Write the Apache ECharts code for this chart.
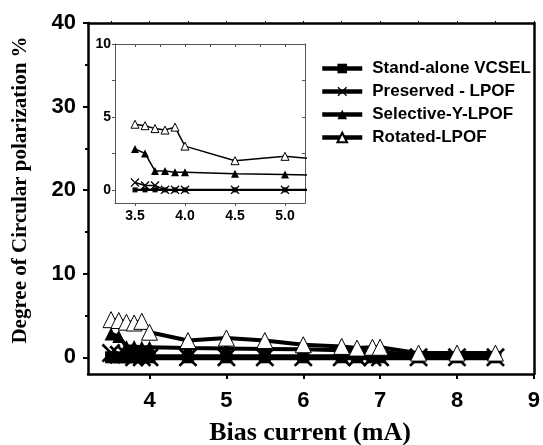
<!DOCTYPE html>
<html>
<head>
<meta charset="utf-8">
<script src="https://cdn.jsdelivr.net/npm/echarts@6/dist/echarts.min.js"></script>
<style>html,body{margin:0;padding:0;background:#fff}#c{width:543px;height:445px}</style>
</head>
<body>
<div id="c"></div>
<script>
const biasCurrent = [3.5,3.6,3.7,3.8,3.9,4.0,4.5,5.0,5.5,6.0,6.5,6.7,6.9,7.0,7.5,8.0,8.5];
const standAlone  = [0,0,0,0,0,0,0,0,0,0,0,0,0,0,0,0,0];
const preserved   = [0.5,0.3,0.3,0,0,0,0,0,0,0,0,0,0,0,0,0,0];
const selectiveY  = [2.8,2.5,1.3,1.3,1.2,1.2,1.1,1.05,1.0,0.95,0.85,0.7,0.6,0.6,0.3,0.3,0.3];
const rotated     = [4.5,4.4,4.2,4.1,4.3,3.0,2.0,2.3,2.0,1.5,1.3,1.1,1.2,1.2,0.5,0.5,0.5];
const seriesNames = ['Stand-alone VCSEL','Preserved - LPOF','Selective-Y-LPOF','Rotated-LPOF'];
const mainXTicks = [4,5,6,7,8,9];
const mainXMinor = [3.5,4.5,5.5,6.5,7.5,8.5];
const mainYTicks = [0,10,20,30,40];
const mainYMinor = [5,15,25,35];
const insetXTicks = [3.5,4.0,4.5,5.0];
const insetXTop = [3.5,3.75,4.0,4.25,4.5,4.75,5.0];
const insetYTicks = [0,5,10];
const insetYAll = [0,2.5,5,7.5,10];

const XMARK = 'path://M0,1L1,0L5,4L9,0L10,1L6,5L10,9L9,10L5,6L1,10L0,9L4,5Z';
const pairs = arr => biasCurrent.map((x,i)=>[x,arr[i]]);
const values = [standAlone, preserved, selectiveY, rotated];
const BF = '"Liberation Sans", Arial, sans-serif';
const mainZ = [3, 2, 4, 5];
const mainW = [6, 4, 4, 4];

function styleFor(k, inset){
  const s = {};
  if(k===0){ s.symbol='rect'; s.symbolSize= inset?5:12; s.itemStyle={color:'#000'}; }
  if(k===1){ s.symbol=XMARK; s.symbolSize= inset?9:19; s.itemStyle={color:'#000'}; }
  if(k===2){ s.symbol='triangle'; s.symbolSize= inset?8:13; s.itemStyle={color:'#000'}; }
  if(k===3){ s.symbol='triangle'; s.symbolSize= inset?8:16; s.itemStyle={color:'#fff',borderColor:'#000',borderWidth:1}; }
  return s;
}

const series = [];
values.forEach((v,k)=>{
  series.push(Object.assign({
    name: seriesNames[k], type:'line', xAxisIndex:0, yAxisIndex:0,
    data: pairs(v), lineStyle:{color:'#000', width:mainW[k]}, color:'#000', z: mainZ[k]
  }, styleFor(k,false)));
});
values.forEach((v,k)=>{
  series.push(Object.assign({
    name: seriesNames[k], type:'line', xAxisIndex:3, yAxisIndex:3,
    data: pairs(v), clip:true, lineStyle:{color:'#000', width: k===0?2.2:1.5}, color:'#000', z: 12+k
  }, styleFor(k,true)));
});

const axLine = (w,c)=>({show:true, onZero:false, lineStyle:{color:c||'#000', width:w}});
const noLabel = {show:false};

const option = {
  animation:false,
  backgroundColor:'#fff',
  grid:[
    {left:88, top:23, width:450, height:351},
    {left:115, top:44, width:190, height:159, show:true, backgroundColor:'#fff', borderWidth:0, z:1}
  ],
  legend:{
    data: seriesNames, orient:'vertical', left:315, top:55,
    itemWidth:40, itemHeight:12, itemGap:6,
    lineStyle:{width:4.5},
    textStyle:{fontFamily:BF, fontWeight:'bold', fontSize:17, color:'#000', lineHeight:17, padding:[0,0,0,5]}
  },
  xAxis:[
    {gridIndex:0, type:'value', position:'bottom', min:3.2, max:9,
      axisLine:axLine(2.5), splitLine:{show:false},
      axisTick:{show:true, customValues:mainXTicks, length:5, lineStyle:{width:2,color:'#000'}},
      axisLabel:{customValues:mainXTicks, fontFamily:BF, fontWeight:'bold', fontSize:22, color:'#000', margin:16}},
    {gridIndex:0, type:'value', position:'bottom', min:3.2, max:9,
      axisLine:{show:false}, splitLine:{show:false}, axisLabel:noLabel,
      axisTick:{show:true, customValues:mainXMinor, length:3, lineStyle:{width:2,color:'#000'}}},
    {gridIndex:0, type:'value', position:'top', min:3.2, max:9,
      axisLine:axLine(2.5), splitLine:{show:false}, axisLabel:noLabel,
      axisTick:{show:true, customValues:mainXMinor.concat(mainXTicks), length:2, lineStyle:{width:1,color:'#000'}}},
    {gridIndex:1, type:'value', position:'bottom', min:3.3, max:5.2, z:8,
      axisLine:axLine(1,'#555'), splitLine:{show:false},
      axisTick:{show:true, customValues:insetXTicks, length:3, lineStyle:{width:1,color:'#555'}},
      axisLabel:{customValues:insetXTicks, formatter:v=>Number(v).toFixed(1), fontFamily:BF, fontWeight:'bold', fontSize:14, color:'#000', margin:6}},
    {gridIndex:1, type:'value', position:'top', min:3.3, max:5.2, z:8,
      axisLine:axLine(1,'#555'), splitLine:{show:false}, axisLabel:noLabel,
      axisTick:{show:true, inside:true, customValues:insetXTop, length:3, lineStyle:{width:1,color:'#555'}}}
  ],
  yAxis:[
    {gridIndex:0, type:'value', position:'left', min:-2, max:40,
      axisLine:axLine(2.5), splitLine:{show:false},
      axisTick:{show:true, customValues:mainYTicks, length:5, lineStyle:{width:2,color:'#000'}},
      axisLabel:{customValues:mainYTicks, fontFamily:BF, fontWeight:'bold', fontSize:22, color:'#000', margin:12}},
    {gridIndex:0, type:'value', position:'left', min:-2, max:40,
      axisLine:{show:false}, splitLine:{show:false}, axisLabel:noLabel,
      axisTick:{show:true, customValues:mainYMinor, length:3, lineStyle:{width:2,color:'#000'}}},
    {gridIndex:0, type:'value', position:'right', min:-2, max:40,
      axisLine:axLine(2.5), splitLine:{show:false}, axisLabel:noLabel, axisTick:{show:false}},
    {gridIndex:1, type:'value', position:'left', min:-0.9, max:10, z:8,
      axisLine:axLine(1,'#555'), splitLine:{show:false},
      axisTick:{show:true, customValues:insetYAll, length:3, lineStyle:{width:1,color:'#555'}},
      axisLabel:{customValues:insetYTicks, fontFamily:BF, fontWeight:'bold', fontSize:14, color:'#000', margin:4}},
    {gridIndex:1, type:'value', position:'right', min:-0.9, max:10, z:8,
      axisLine:axLine(1,'#555'), splitLine:{show:false}, axisLabel:noLabel,
      axisTick:{show:true, inside:true, customValues:insetYAll, length:3, lineStyle:{width:1,color:'#555'}}}
  ],
  graphic:[
    {type:'text', x:21, y:190, rotation:Math.PI/2,
      style:{text:'Degree of Circular polarization %', textAlign:'center', textVerticalAlign:'middle',
        font:'bold 21px "Liberation Serif", "Times New Roman", serif', fill:'#000'}},
    {type:'text', x:310, y:433,
      style:{text:'Bias current (mA)', textAlign:'center', textVerticalAlign:'middle',
        font:'bold 26px "Liberation Serif", "Times New Roman", serif', fill:'#000'}}
  ],
  series: series
};
const chart = echarts.init(document.getElementById('c'), null, {renderer:'canvas'});
chart.setOption(option);
</script>
</body>
</html>
